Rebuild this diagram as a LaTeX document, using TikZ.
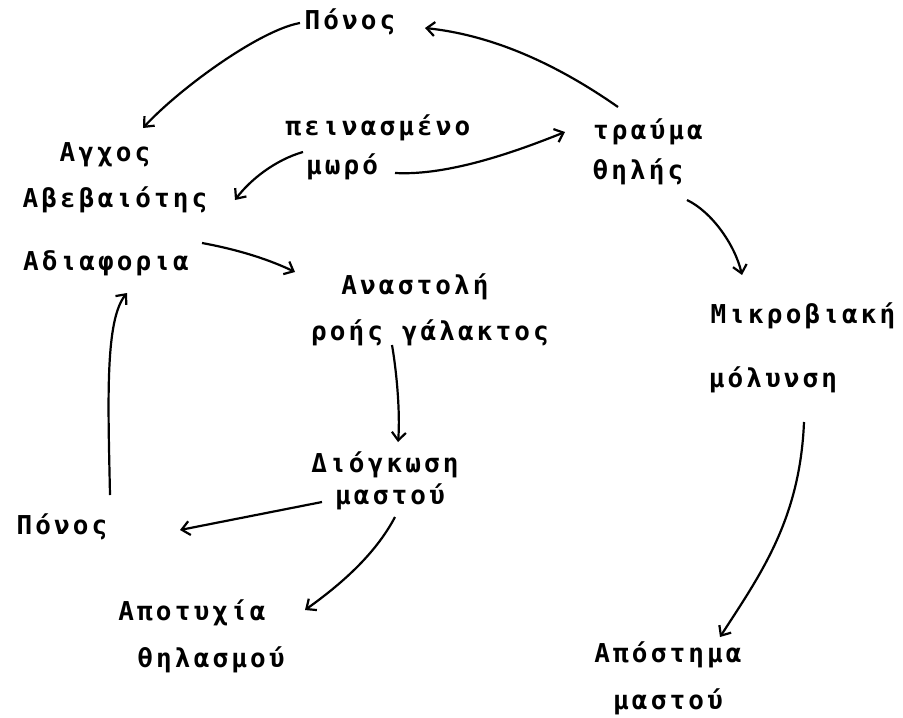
\documentclass[tikz,border=0pt]{standalone}
\usepackage{fontspec}
\usetikzlibrary{arrows.meta}
\newfontfamily\tw[LetterSpace=12]{DejaVu Sans Mono}
\begin{document}
\begin{tikzpicture}[x=1pt,y=-1pt,
  lbl/.style={inner sep=0pt,font=\tw\bfseries\fontsize{26}{26}\selectfont},
  arr/.style={line width=2.2pt,-{Straight Barb[length=8pt,width=14pt,line width=2.2pt]}}]
\useasboundingbox[fill=white] (0,0) rectangle (903,718);
% nodes
\node[lbl] (ponotop) at (350,22) {Πόνος};
\node[lbl] (agxos) at (105,155) {Αγχος};
\node[lbl] (avev) at (115,200) {Αβεβαιότης};
\node[lbl] (adiaf) at (106,263) {Αδιαφορια};
\node[lbl] (peina) at (378,128) {πεινασμένο};
\node[lbl] (moro) at (342,167) {μωρό};
\node[lbl] (trauma) at (648,132) {τραύμα};
\node[lbl] (thilis) at (638,172) {θηλής};
\node[lbl] (mikro) at (803,316) {Μικροβιακή};
\node[lbl] (molyn) at (773,380) {μόλυνση};
\node[lbl] (anast) at (415,287) {Αναστολή};
\node[lbl] (roisg) at (430,333) {ροής γάλακτος};
\node[lbl] (diogk) at (385,465) {Διόγκωση};
\node[lbl] (mastmid) at (390,497) {μαστού};
\node[lbl] (ponoleft) at (62,527) {Πόνος};
\node[lbl] (apotyx) at (192,613) {Αποτυχία};
\node[lbl] (thilasm) at (211,660) {θηλασμού};
\node[lbl] (apost) at (668,655) {Απόστημα};
\node[lbl] (mastbot) at (668,702) {μαστού};
% connectors
\draw[arr] ([shift={(-30,-25)}]trauma.center) .. controls (565,70) and (500,36) .. ([shift={(75,6)}]ponotop.center);
\draw[arr] ([shift={(-50,1)}]ponotop.center) .. controls (260,30) and (180,88) .. ([shift={(38,-27)}]agxos.center);
\draw[arr] ([shift={(-39,-15)}]moro.center) .. controls (275,160) and (250,180) .. ([shift={(120,0)}]avev.center);
\draw[arr] ([shift={(53,6)}]moro.center) .. controls (450,176) and (520,150) .. ([shift={(-83,0)}]trauma.center);
\draw[arr] ([shift={(49,28)}]thilis.center) .. controls (712,212) and (735,245) .. ([shift={(-61,-41)}]mikro.center);
\draw[arr] ([shift={(31,42)}]molyn.center) .. controls (800,520) and (760,575) .. ([shift={(52,-18)}]apost.center);
\draw[arr] ([shift={(96,-20)}]adiaf.center) .. controls (240,250) and (270,260) .. ([shift={(-120,-15)}]anast.center);
\draw[arr] ([shift={(-38,12)}]roisg.center) .. controls (398,380) and (400,420) .. ([shift={(13,-23)}]diogk.center);
\draw[arr] ([shift={(-68,5)}]mastmid.center) -- ([shift={(118,3)}]ponoleft.center);
\draw[arr] ([shift={(48,-32)}]ponoleft.center) .. controls (108,400) and (105,320) .. ([shift={(21,30)}]adiaf.center);
\draw[arr] ([shift={(5,20)}]mastmid.center) .. controls (375,555) and (340,585) .. ([shift={(113,-3)}]apotyx.center);
\end{tikzpicture}
\end{document}
